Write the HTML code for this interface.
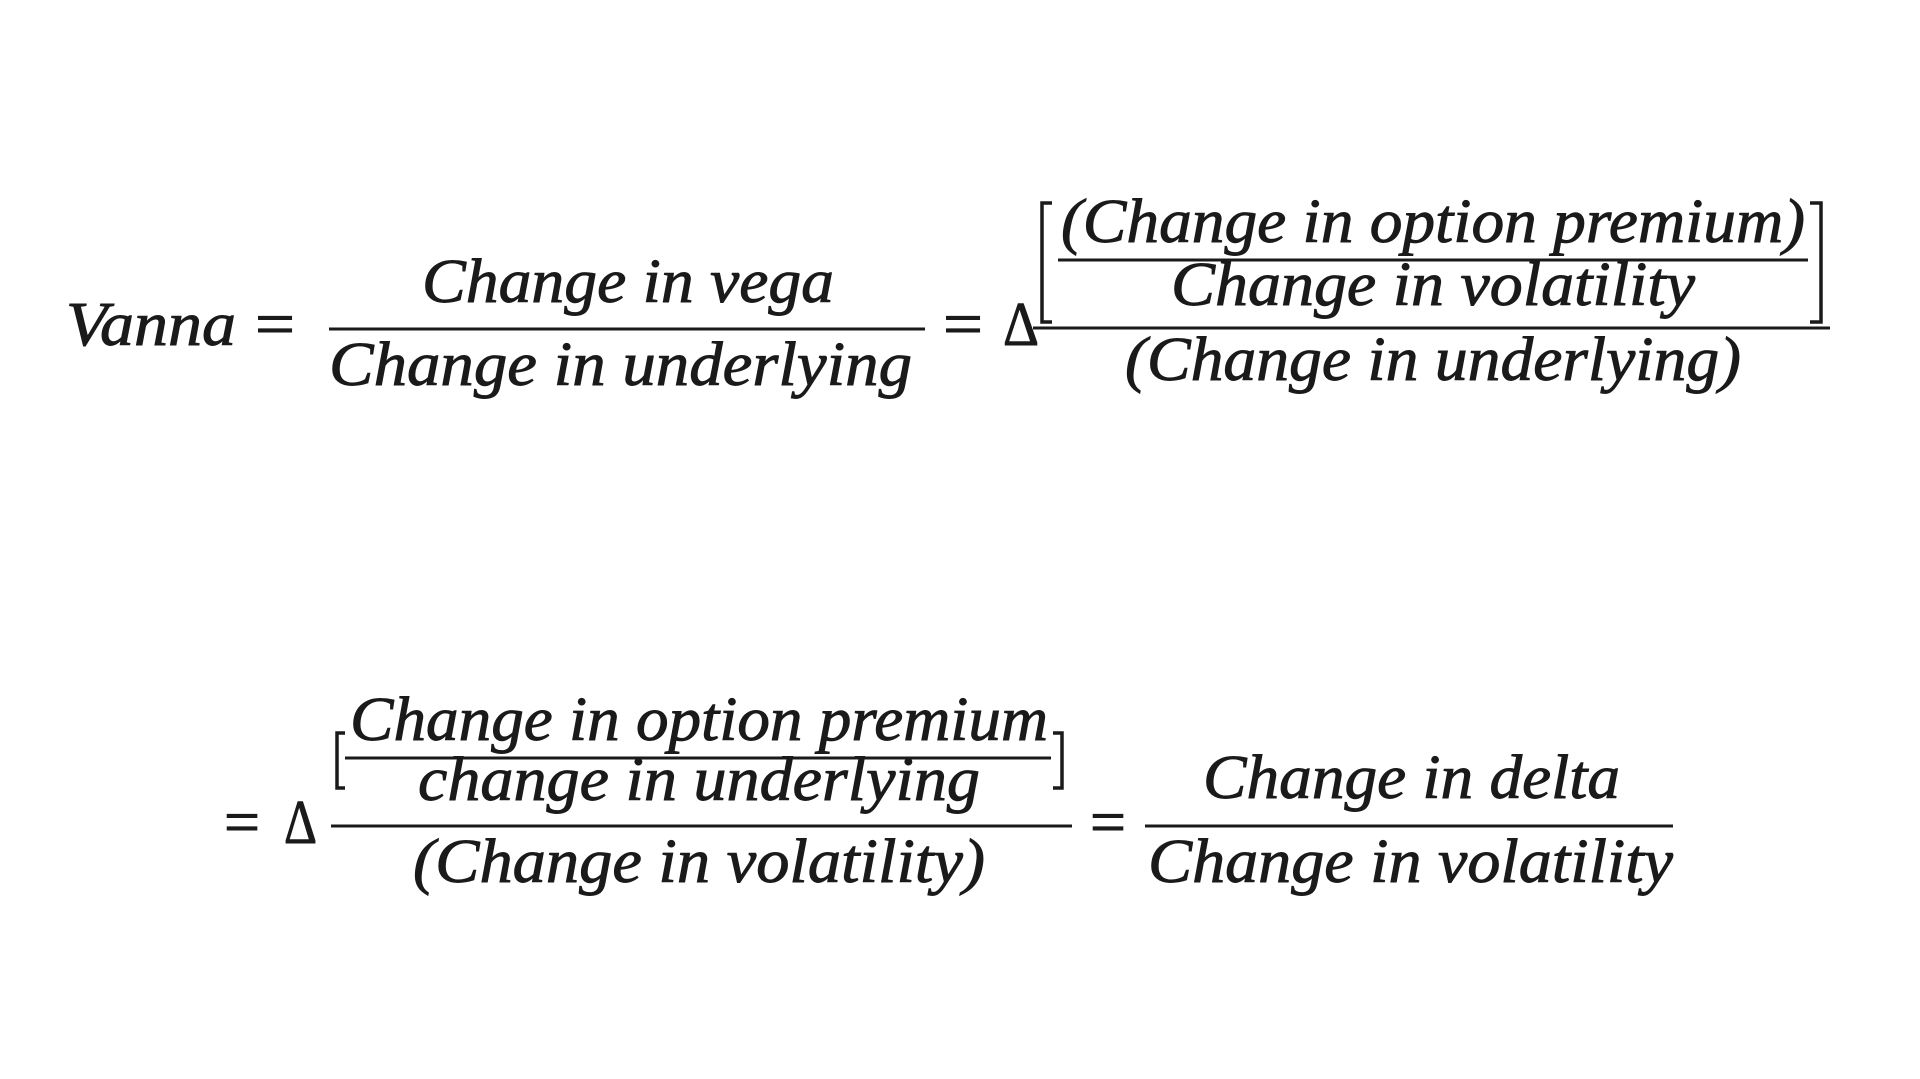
<!DOCTYPE html>
<html><head><meta charset="utf-8"><style>
html,body{margin:0;padding:0;background:#fff;}
svg{display:block}
text{font-family:"Liberation Serif",serif;font-style:italic;font-size:62px;fill:#1a1a1a;stroke:#1a1a1a;stroke-width:0.9px}
.u{font-style:normal}
</style></head><body>
<svg width="1920" height="1079" viewBox="0 0 1920 1079" xmlns="http://www.w3.org/2000/svg">
<rect width="1920" height="1079" fill="#fff"/>
<!-- line 1 -->
<text x="66" y="345" textLength="170" lengthAdjust="spacingAndGlyphs">Vanna</text>
<text class="u" x="255" y="345" textLength="40" lengthAdjust="spacingAndGlyphs">=</text>
<text x="422" y="302" textLength="412" lengthAdjust="spacingAndGlyphs">Change in vega</text>
<line x1="329" y1="329" x2="925" y2="329" stroke="#1a1a1a" stroke-width="3"/>
<text x="329" y="385" textLength="583" lengthAdjust="spacingAndGlyphs">Change in underlying</text>
<text class="u" x="943" y="345" textLength="40" lengthAdjust="spacingAndGlyphs">=</text>
<text class="u" x="1003" y="345" textLength="36" lengthAdjust="spacingAndGlyphs">Δ</text>
<path d="M1052 203 H1042 V322 H1052" fill="none" stroke="#1a1a1a" stroke-width="3.5"/>
<text x="1061" y="242" textLength="744" lengthAdjust="spacingAndGlyphs">(Change in option premium)</text>
<line x1="1058" y1="260" x2="1808" y2="260" stroke="#1a1a1a" stroke-width="3"/>
<text x="1171" y="305" textLength="524" lengthAdjust="spacingAndGlyphs">Change in volatility</text>
<path d="M1810 203 H1821 V322 H1810" fill="none" stroke="#1a1a1a" stroke-width="3.5"/>
<line x1="1033" y1="328" x2="1830" y2="328" stroke="#1a1a1a" stroke-width="3"/>
<text x="1125" y="380" textLength="616" lengthAdjust="spacingAndGlyphs">(Change in underlying)</text>
<!-- line 2 -->
<text class="u" x="224" y="843" textLength="36" lengthAdjust="spacingAndGlyphs">=</text>
<text class="u" x="284" y="843" textLength="33" lengthAdjust="spacingAndGlyphs">Δ</text>
<path d="M345 733 H337 V788 H345" fill="none" stroke="#1a1a1a" stroke-width="3.5"/>
<text x="350" y="740" textLength="698" lengthAdjust="spacingAndGlyphs">Change in option premium</text>
<line x1="345" y1="758" x2="1051" y2="758" stroke="#1a1a1a" stroke-width="3"/>
<text x="418" y="800" textLength="562" lengthAdjust="spacingAndGlyphs">change in underlying</text>
<path d="M1053 733 H1062 V788 H1053" fill="none" stroke="#1a1a1a" stroke-width="3.5"/>
<line x1="331" y1="826" x2="1072" y2="826" stroke="#1a1a1a" stroke-width="3"/>
<text x="413" y="882" textLength="572" lengthAdjust="spacingAndGlyphs">(Change in volatility)</text>
<text class="u" x="1090" y="843" textLength="36" lengthAdjust="spacingAndGlyphs">=</text>
<text x="1203" y="798" textLength="417" lengthAdjust="spacingAndGlyphs">Change in delta</text>
<line x1="1145" y1="826" x2="1673" y2="826" stroke="#1a1a1a" stroke-width="3"/>
<text x="1148" y="882" textLength="525" lengthAdjust="spacingAndGlyphs">Change in volatility</text>
</svg>
</body></html>
